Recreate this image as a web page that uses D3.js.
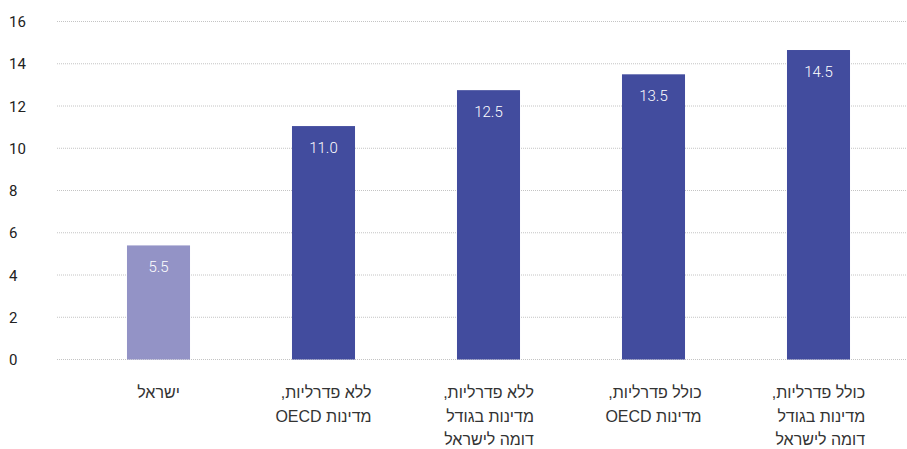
<!DOCTYPE html>
<html><head><meta charset="utf-8">
<script src="https://cdn.jsdelivr.net/npm/d3@7"></script>
<style>body{margin:0;background:#fff}svg{display:block}</style>
</head><body>
<svg id="c" width="907" height="449"></svg>
<script>
const categories = [
  ["ישראל"],
  ["ללא פדרליות,", "מדינות OECD"],
  ["ללא פדרליות,", "מדינות בגודל", "דומה לישראל"],
  ["כולל פדרליות,", "מדינות OECD"],
  ["כולל פדרליות,", "מדינות בגודל", "דומה לישראל"]
];
const values = [5.4, 11.05, 12.75, 13.5, 14.65];
const valueLabels = ["5.5", "11.0", "12.5", "13.5", "14.5"];
const yTicks = [0, 2, 4, 6, 8, 10, 12, 14, 16];
const barColors = ["#9393c6", "#424c9e", "#424c9e", "#424c9e", "#424c9e"];

const svg = d3.select("#c");
const x = d3.scaleBand().domain(d3.range(values.length)).range([76, 901]).paddingInner(0.618).paddingOuter(0.309);
const y = d3.scaleLinear().domain([0, 16]).range([359.5, 21.5]);

// gridlines
svg.append("g").selectAll("line").data(yTicks).join("line")
  .attr("x1", 57).attr("x2", 907)
  .attr("y1", d => y(d)).attr("y2", d => y(d))
  .attr("stroke", "#c4c4c4").attr("stroke-width", 1).attr("stroke-dasharray", "1,1");

// y tick labels
svg.append("g").selectAll("text").data(yTicks).join("text")
  .attr("x", 9).attr("y", d => y(d) + 5.5)
  .attr("font-family", "Roboto, sans-serif").attr("font-size", 15).attr("fill", "#222")
  .text(d => d);

// bars
svg.append("g").selectAll("rect").data(values).join("rect")
  .attr("x", (d, i) => x(i)).attr("width", x.bandwidth())
  .attr("y", d => y(d)).attr("height", d => y(0) - y(d))
  .attr("fill", (d, i) => barColors[i]);

// value labels
svg.append("g").selectAll("text").data(values).join("text")
  .attr("x", (d, i) => x(i) + x.bandwidth() / 2).attr("y", d => y(d) + 27)
  .attr("text-anchor", "middle")
  .attr("font-family", "Roboto, sans-serif").attr("font-size", 15).attr("font-weight", 300).attr("fill", "#fff")
  .text((d, i) => valueLabels[i]);

// category labels
categories.forEach((lines, i) => {
  const g = svg.append("g");
  const cx = x(i) + x.bandwidth() / 2;
  const texts = lines.map((l, j) => g.append("text")
    .attr("y", 398 + j * 23.5)
    .attr("font-family", "Liberation Sans, Arial, sans-serif").attr("font-size", 16).attr("fill", "#333")
    .attr("direction", "rtl").attr("text-anchor", "start")
    .text(l));
  const w = d3.max(texts, t => t.node().getComputedTextLength());
  texts.forEach(t => t.attr("x", cx + w / 2));
});
</script>
</body></html>
